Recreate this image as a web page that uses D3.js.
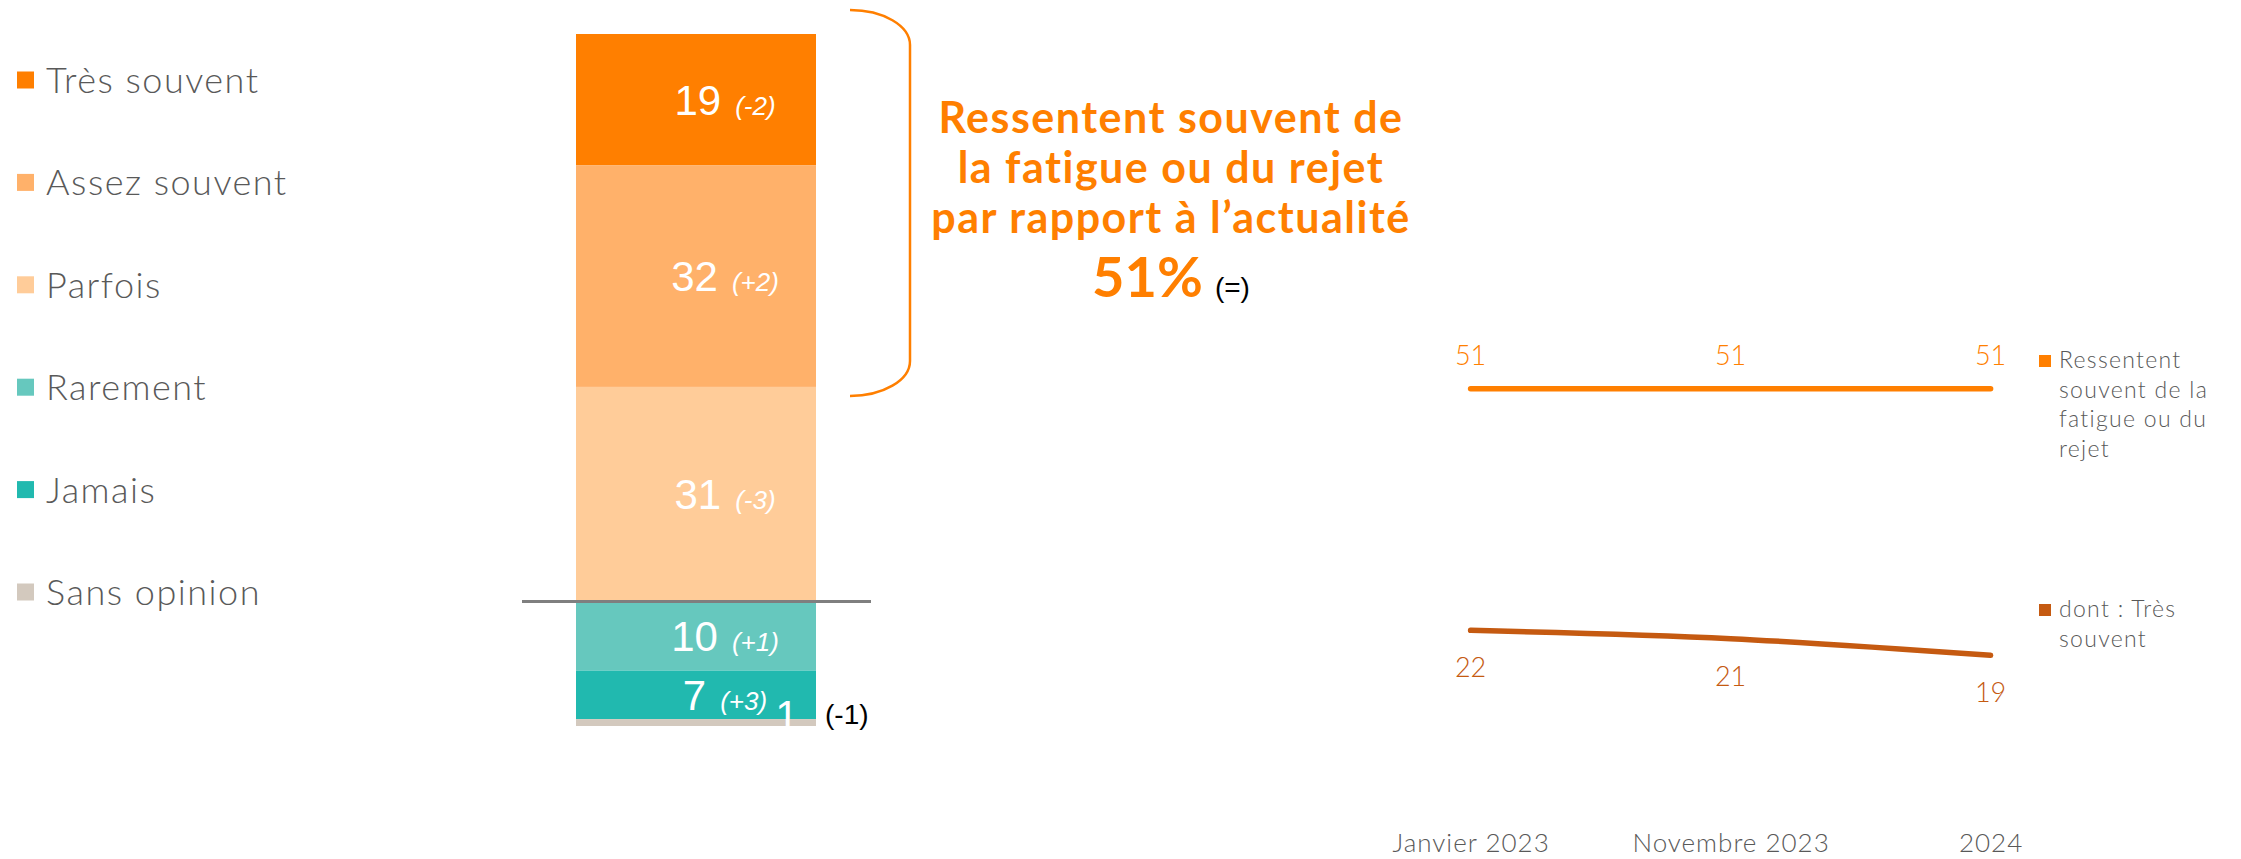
<!DOCTYPE html>
<html><head><meta charset="utf-8">
<script src="https://cdn.jsdelivr.net/npm/d3@7"></script>
<style>body{margin:0;background:#fff;} svg{display:block}</style>
</head><body>
<svg id="c" width="2241" height="859"></svg>
<script>
// ---- data ----
const categories = ["Très souvent","Assez souvent","Parfois","Rarement","Jamais","Sans opinion"];
const values = [19,32,31,10,7,1];
const deltas = ["(-2)","(+2)","(-3)","(+1)","(+3)","(-1)"];
const colors = ["#FF7F00","#FFB16A","#FFCC99","#66C8BE","#21B9AF","#D3C9BE"];
const titleLines = ["Ressentent souvent de","la fatigue ou du rejet","par rapport à l’actualité"];
const headline = "51%";
const headlineDelta = "(=)";
const periods = ["Janvier 2023","Novembre 2023","2024"];
const seriesLabels = [["Ressentent","souvent de la","fatigue ou du","rejet"],["dont : Très","souvent"]];
const seriesFatigue = [51,51,51];
const seriesTresSouvent = [22,21,19];
const lineColors = ["#FF7F00","#C55A11"];

const svg = d3.select("#c");
const GOTHIC = "'Century Gothic', Lato, sans-serif";
const ARIAL = "'Liberation Sans', Arial, sans-serif";
const GREY = "#595959";

// ---- left legend ----
const legY = d3.scalePoint().domain(categories).range([80, 592]);
const leg = svg.append("g").selectAll("g").data(categories).join("g")
  .attr("transform", d => `translate(0,${legY(d)})`);
leg.append("rect").attr("x",17).attr("y",-8.5).attr("width",17).attr("height",17)
  .attr("fill",(d,i)=>colors[i]);
leg.append("text").attr("x",46).attr("y",13).attr("font-family",GOTHIC)
  .attr("font-size",36).attr("font-weight",300).attr("letter-spacing",1.5)
  .attr("fill",GREY).text(d=>d);

// ---- stacked bar ----
const row = {}; categories.forEach((c,i)=>row[c]=values[i]);
const stacked = d3.stack().keys(categories)([row]);
const yBar = d3.scaleLinear().domain([0,100]).range([34,726]);
const xBar = d3.scaleBand().domain(["total"]).range([576,816]).padding(0);
const bar = svg.append("g");
bar.selectAll("rect").data(stacked).join("rect")
  .attr("x", xBar("total")).attr("width", xBar.bandwidth())
  .attr("y", d => yBar(d[0][0])).attr("height", d => yBar(d[0][1]) - yBar(d[0][0]))
  .attr("fill", (d,i) => colors[i]);

const labCx = 725;
stacked.forEach((s,i) => {
  const y0 = yBar(s[0][0]), y1 = yBar(s[0][1]);
  const h = y1 - y0;
  if (h > 30) {
    const t = bar.append("text").attr("x", labCx).attr("y", (y0+y1)/2 + 15)
      .attr("text-anchor","middle").attr("font-family",ARIAL).attr("fill","#fff");
    t.append("tspan").attr("font-size",42).text(values[i]);
    t.append("tspan").attr("dx",14).attr("font-size",26).attr("font-style","italic").text(deltas[i]);
  } else {
    bar.append("text").attr("x", xBar("total")+xBar.bandwidth()-29).attr("y", y1+4)
      .attr("text-anchor","middle").attr("font-family",ARIAL).attr("font-size",42)
      .attr("fill","#fff").text(values[i]);
    bar.append("text").attr("x", xBar("total")+xBar.bandwidth()+9).attr("y", y1-2)
      .attr("font-family",ARIAL).attr("font-size",28).attr("fill","#000").text(deltas[i]);
  }
});

// separator line between positive and negative answers
const ySep = yBar(values[0]+values[1]+values[2]);
svg.append("line").attr("x1",522).attr("x2",871).attr("y1",ySep).attr("y2",ySep)
  .attr("stroke","#7F7F7F").attr("stroke-width",3);

// bracket around the "souvent" total
const bTop = yBar(0) - 24, bBot = yBar(values[0]+values[1]) + 9;
svg.append("path")
  .attr("d", `M850,${bTop} A60,35 0 0 1 910,${bTop+35} L910,${bBot-35} A60,35 0 0 1 850,${bBot}`)
  .attr("fill","none").attr("stroke","#FF7F00").attr("stroke-width",2.5);

// ---- title block ----
const title = svg.append("g").attr("font-family",GOTHIC).attr("font-weight","bold")
  .attr("fill","#FF7F00").attr("text-anchor","middle");
titleLines.forEach((l,i) => {
  title.append("text").attr("x",1171).attr("y",133 + i*50).attr("font-size",43)
    .attr("letter-spacing",1.5).text(l);
});
const hl = title.append("text").attr("x",1171).attr("y",297);
hl.append("tspan").attr("font-size",56).text(headline);
hl.append("tspan").attr("dx",12).attr("font-size",28).attr("font-weight","normal")
  .attr("font-family",ARIAL).attr("fill","#000").text(headlineDelta);

// ---- line chart ----
const xLine = d3.scalePoint().domain(periods).range([1470.6, 1990.6]);
const yLine = d3.scaleLinear().domain([0,60]).range([813.6, 313.8]);
const series = [seriesFatigue, seriesTresSouvent];
const lineGen = d3.line().x((d,i)=>xLine(periods[i])).y(d=>yLine(d)).curve(d3.curveMonotoneX);
const lc = svg.append("g");
series.forEach((s,k) => {
  lc.append("path").attr("d", lineGen(s)).attr("fill","none")
    .attr("stroke", lineColors[k]).attr("stroke-width",5.5).attr("stroke-linecap","round");
  lc.selectAll(null).data(s).join("text")
    .attr("x",(d,i)=>xLine(periods[i]))
    .attr("y",d => k===0 ? yLine(d)-24 : yLine(d)+47)
    .attr("text-anchor","middle").attr("font-family",GOTHIC).attr("font-size",27)
    .attr("font-weight",300).attr("fill", lineColors[k]).text(d=>d);
});

const axis = d3.axisBottom(xLine).tickSize(0).tickPadding(20);
const ax = svg.append("g").attr("transform",`translate(0,${yLine(0)})`).call(axis);
ax.select(".domain").remove();
ax.selectAll("text").attr("font-family",GOTHIC).attr("font-size",26).attr("font-weight",300)
  .attr("letter-spacing",1).attr("fill",GREY);

// right legend
const rl = svg.append("g");
const legTop = [355, 604];
seriesLabels.forEach((lines,k) => {
  rl.append("rect").attr("x",2039).attr("y",legTop[k]).attr("width",12).attr("height",12)
    .attr("fill",lineColors[k]);
  const t = rl.append("text").attr("font-family",GOTHIC).attr("font-size",23)
    .attr("font-weight",300).attr("letter-spacing",1.3).attr("fill",GREY);
  lines.forEach((l,j) => t.append("tspan").attr("x",2059).attr("y",legTop[k]+13+j*29.5).text(l));
});
</script>
</body></html>
